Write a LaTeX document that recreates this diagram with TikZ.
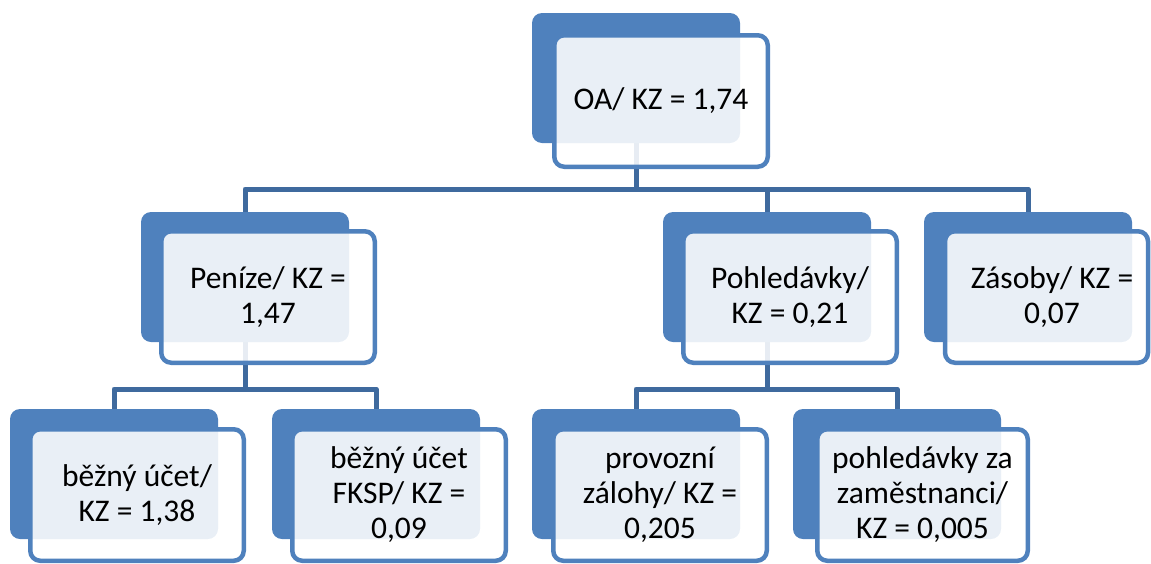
\documentclass[tikz,border=0pt]{standalone}
\usepackage{fontspec}
\setmainfont{Carlito}
\usetikzlibrary{backgrounds}
\definecolor{accblue}{HTML}{4F81BD}
\definecolor{connblue}{HTML}{3F6A9E}
\tikzset{
  backbox/.style={fill=accblue, draw=none, rounded corners=10pt, minimum width=208pt, minimum height=130pt, inner sep=0pt},
  frontbox/.style={fill=white, fill opacity=0.88, text opacity=1, draw=accblue, draw opacity=1, line width=4.5pt, rounded corners=10pt,
    minimum width=213.5pt, minimum height=131.5pt, inner sep=0pt, align=center, font=\fontsize{31.5}{35}\selectfont, text=black},
  conn/.style={draw=connblue, line width=5pt, line join=round}
}
\begin{document}
\begin{tikzpicture}[x=1pt,y=-1pt]
\useasboundingbox (0,0) rectangle (1151,563);
% junction points of the connectors
\coordinate (j1) at (636,189);
\coordinate (j2) at (245,389);
\coordinate (j3) at (767,389);
% back boxes
\node[backbox] (oa)   at (636,78)  {};
\node[backbox] (pen)  at (245,277) {};
\node[backbox] (pohl) at (767,277) {};
\node[backbox] (zas)  at (1028,277) {};
\node[backbox] (bu)   at (114,474) {};
\node[backbox] (fksp) at (376,474) {};
\node[backbox] (prov) at (636,474) {};
\node[backbox] (pza)  at (897,474) {};
% connectors behind the boxes
\begin{pgfonlayer}{background}
\path[conn] (oa.south) -- (j1) -| (pen.north);
\path[conn] (j1) -| (pohl.north);
\path[conn] (j1) -| (zas.north);
\path[conn] (pen.south) -- (j2) -| (bu.north);
\path[conn] (j2) -| (fksp.north);
\path[conn] (pohl.south) -- (j3) -| (prov.north);
\path[conn] (j3) -| (pza.north);
\end{pgfonlayer}
% front boxes with text
\node[frontbox] (oaf)   at (661,101) {OA/ KZ = 1,74};
\node[frontbox] (penf)  at (268,297) {Peníze/ KZ =\\1,47};
\node[frontbox] (pohlf) at (790,297) {Pohledávky/\\KZ = 0,21};
\node[frontbox, minimum width=203pt] (zasf) at (1046.5,297) {\hspace*{11pt}Zásoby/ KZ =\\\hspace*{11pt}0,07};
\node[frontbox] (buf)   at (137,495) {běžný účet/\\KZ = 1,38};
\node[frontbox] (fkspf) at (399,495) {běžný účet\\FKSP/ KZ =\\0,09};
\node[frontbox] (provf) at (660,495) {provozní\\zálohy/ KZ =\\0,205};
\node[frontbox, minimum width=210.5pt] (pzaf) at (922.5,495) {pohledávky za\\zaměstnanci/\\KZ = 0,005};
\end{tikzpicture}
\end{document}
